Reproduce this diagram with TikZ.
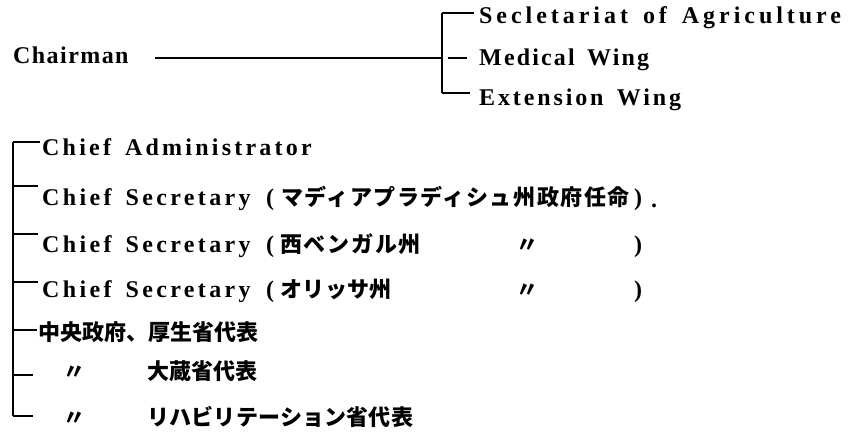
\documentclass[tikz,border=0pt]{standalone}
\usepackage{fontspec}
\newfontfamily\latfam{Liberation Serif}[WordSpace=1.5]
\newfontfamily\jpfam{Noto Sans CJK JP}
\newcommand\latfont[1]{\latfam\bfseries\fontsize{24}{28}\selectfont\addfontfeatures{LetterSpace=#1}}
\newcommand\jpfont[1]{\jpfam\bfseries\fontsize{22}{26}\selectfont\addfontfeatures{LetterSpace=#1}}
\begin{document}
\begin{tikzpicture}[x=1pt,y=-1pt,
  lat/.style={anchor=base west, inner sep=0pt, font=\latfont{#1}},
  lat/.default=15,
  jpn/.style={anchor=base west, inner sep=0pt, font=\jpfont{#1}},
  jpn/.default=0,
  ln/.style={line width=1.6pt}]
\useasboundingbox[fill=white] (0,0) rectangle (853,440);
% ---------- top group ----------
\node[lat=6] (ch) at (13,63) {Chairman};
\node[lat=16.5] (s1) at (479,23) {Secletariat of Agriculture};
\node[lat=9] (s2) at (479,65) {Medical Wing};
\node[lat=12] (s3) at (479,105) {Extension Wing};
\coordinate (lstart) at (155,58);
\coordinate (ta) at (442,13);
\coordinate (tm) at (442,58);
\coordinate (tmb) at (448,58);
\coordinate (tb) at (442,93);
\draw[ln] (lstart) -- (tm);
\draw[ln] (tb) -- (ta);
\draw[ln, shorten >=5pt] (ta) -- (ta -| s1.west);
\draw[ln, shorten >=12pt] (tmb) -- (tmb -| s2.west);
\draw[ln, shorten >=9pt] (tb) -- (tb -| s3.west);
% ---------- bottom group ----------
\node[lat=13.5] (r1) at (42,155) {Chief Administrator};
\node[lat=14] (r2) at (42,205) {Chief Secretary};
\node[lat] (r2p) at (266,205) {(};
\node[jpn=7] (r2j) at (281,205) {マディアプラディシュ州政府任命};
\node[lat] (r2q) at (634,205) {)};
\node[lat] (r2d) at (651,207) {.};
\node[lat=14] (r3) at (42,252) {Chief Secretary};
\node[lat] (r3p) at (266,252) {(};
\node[jpn=8] (r3j) at (280,252) {西ベンガル州};
\node[jpn] (r3d) at (516,252) {〃};
\node[lat] (r3q) at (634,252) {)};
\node[lat=14] (r4) at (42,297) {Chief Secretary};
\node[lat] (r4p) at (266,297) {(};
\node[jpn=2] (r4j) at (280,297) {オリッサ州};
\node[jpn] (r4d) at (516,297) {〃};
\node[lat] (r4q) at (634,297) {)};
\node[jpn] (r5) at (38,340) {中央政府、厚生省代表};
\node[jpn] (r6d) at (63,379) {〃};
\node[jpn] (r6) at (147,379) {大蔵省代表};
\node[jpn] (r7d) at (63,425) {〃};
\node[jpn=1] (r7) at (147,425) {リハビリテーション省代表};
\coordinate (b1) at (13,142);
\coordinate (b2) at (13,186);
\coordinate (b3) at (13,234);
\coordinate (b4) at (13,282);
\coordinate (b5) at (13,330);
\coordinate (b6) at (13,375);
\coordinate (b7) at (13,416);
\draw[ln] (b7) -- (b1);
\draw[ln, shorten >=2pt] (b1) -- (b1 -| r1.west);
\draw[ln, shorten >=4pt] (b2) -- (b2 -| r2.west);
\draw[ln, shorten >=4pt] (b3) -- (b3 -| r3.west);
\draw[ln, shorten >=4pt] (b4) -- (b4 -| r4.west);
\draw[ln, shorten >=1pt] (b5) -- (b5 -| r5.west);
\draw[ln, shorten >=30pt] (b6) -- (b6 -| r6d.west);
\draw[ln, shorten >=30pt] (b7) -- (b7 -| r7d.west);
\end{tikzpicture}
\end{document}
